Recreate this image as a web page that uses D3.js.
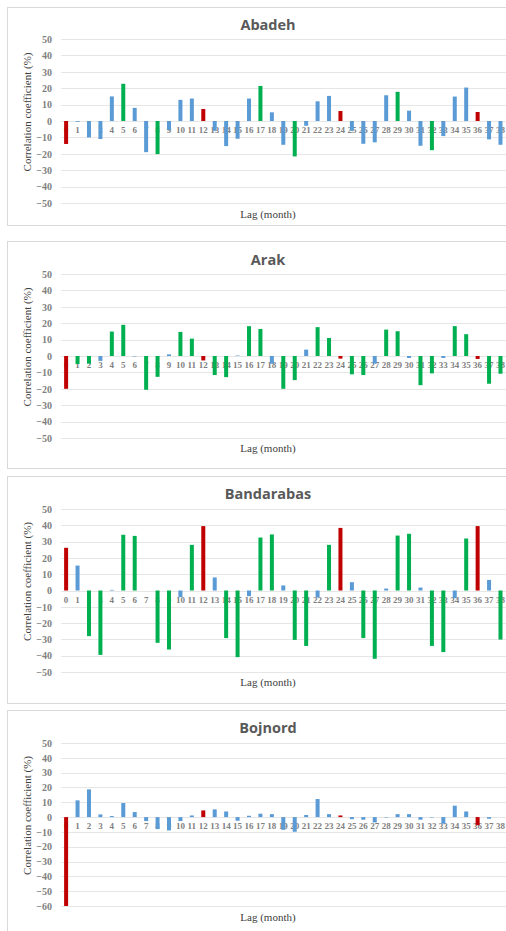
<!DOCTYPE html>
<html><head><meta charset="utf-8">
<script src="https://cdn.jsdelivr.net/npm/d3@7"></script>
<style>html,body{margin:0;padding:0;background:#fff;}svg{display:block;}</style>
</head><body>
<script>
// ---- data ----
const lagLabels = ["0","1","2","3","4","5","6","7","8","9","10","11","12","13","14","15","16","17","18","19","20","21","22","23","24","25","26","27","28","29","30","31","32","33","34","35","36","37","38"];
const stations = ["Abadeh","Arak","Bandarabas","Bojnord"];
const abadehValues = [-14,-0.5,-10,-11,15,22.7,8,-19,-20.2,-5.5,12.9,13.7,7.3,-6,-15.3,-10.8,13.7,21.4,5.3,-14.5,-21.6,-2.9,12,15.3,6.1,-6,-13.9,-13,15.7,17.8,6.3,-15.1,-17.8,-9.2,14.9,20.4,5.5,-11.2,-14.5];
const abadehClass  = "rbbbbgbbgbbbrbbbbgbbgbbbrbbbbgbbgbbbrbb".split("");
const arakValues = [-20,-4.9,-4.7,-3,14.9,19,-0.3,-20.6,-12.7,1,14.7,10.6,-2.7,-11.6,-12.9,0.3,18.2,16.5,-4.7,-20,-14.7,3.9,17.6,11,-1.6,-11.2,-11.6,-4.7,16.1,15.1,-1.2,-17.8,-10.6,-1.2,18.2,13.3,-1.8,-16.9,-10.8];
const arakClass  = "rggbggbggbggrggbggbggbggrggbggbggbggrgg".split("");
const bandarabasValues = [26.2,15.3,-28,-39.5,0.4,34.2,33.5,0,-32.1,-36.2,-4.1,28,39.5,8,-29.2,-40.9,-3.5,32.5,34.4,3.1,-30.3,-34,-4.3,28,38.4,5.1,-29.2,-41.9,1.2,33.7,34.8,1.8,-34,-37.8,-4.7,31.9,39.5,6.5,-30.1];
const bandarabasClass  = "rbggbggbggbgrbggbggbggbgrbggbggbggbgrbg".split("");
const bojnordValues = [-60,11.3,18.7,1.8,0.7,9.5,3.4,-2.7,-8.1,-9,-2.7,1.1,4.5,5.2,3.8,-2.5,0.9,2.3,2,-8.6,-9.9,1.4,12.2,2,1.1,-1.4,-1.8,-3.6,-0.3,2,2,-1.8,-0.3,-4.5,7.7,3.8,-5.4,-1.1,0];
const bojnordClass  = "rbbbbbbbbbbbrbbbbbbbbbbbrbbbbbbbbbbbrbb".split("");
const yTicksA = [50,40,30,20,10,0,-10,-20,-30,-40,-50];
const yTicksB = [50,40,30,20,10,0,-10,-20,-30,-40,-50,-60];
const yDomains = [[-50,50],[-50,50],[-50,50],[-60,50]];
const yAxisTitle = "Correlation coefficient (%)";
const xAxisTitle = "Lag (month)";

const colors = {r:"#C00000", g:"#00B050", b:"#5B9BD5"};

// ---- layout ----
const W = 506, H = 931;
const panels = [
  {top:7,   bottom:225, yMax:39,  yMin:203, titleY:25,  lagY:214, values:abadehValues, cls:abadehClass, ticks:yTicksA},
  {top:241, bottom:468, yMax:274, yMin:438, titleY:260, lagY:448, values:arakValues, cls:arakClass, ticks:yTicksA},
  {top:476, bottom:703, yMax:509, yMin:672, titleY:494, lagY:682, values:bandarabasValues, cls:bandarabasClass, ticks:yTicksA},
  {top:710, bottom:945, yMax:743, yMin:906, titleY:728, lagY:917, values:bojnordValues, cls:bojnordClass, ticks:yTicksB}
];

const svg = d3.select("body").append("svg").attr("width",W).attr("height",H);
const serif = "'Liberation Serif','Times New Roman',serif";
const sans = "'Open Sans','Liberation Sans',sans-serif";

const x = d3.scaleBand().domain(lagLabels).range([60.4, 506.2]).paddingInner(0.65).paddingOuter(0.325);

panels.forEach((p, i) => {
  const g = svg.append("g");
  g.append("rect").attr("x",7.5).attr("y",p.top+0.5).attr("width",560).attr("height",p.bottom-p.top)
    .attr("fill","#fff").attr("stroke","#d9d9d9").attr("stroke-width",1);

  const y = d3.scaleLinear().domain(yDomains[i]).range([p.yMin, p.yMax]);

  // gridlines
  g.append("g").selectAll("line").data(p.ticks).join("line")
    .attr("x1",61).attr("x2",W).attr("y1",d=>Math.round(y(d))+0.5).attr("y2",d=>Math.round(y(d))+0.5)
    .attr("stroke","#e6e6e6").attr("stroke-width",1);

  // y axis labels
  const yAxis = d3.axisLeft(y).tickValues(p.ticks).tickSize(0).tickPadding(0);
  const ya = g.append("g").attr("transform","translate(52,0)").call(yAxis);
  ya.select(".domain").remove();
  ya.selectAll("text").attr("font-family",serif).attr("font-weight","bold").attr("font-size","10px").attr("fill","#7f7f7f");

  // x tick labels below zero line
  const xAxis = d3.axisBottom(x).tickSize(0).tickPadding(6);
  const xa = g.append("g").attr("transform",`translate(0,${y(0)})`).call(xAxis);
  xa.select(".domain").remove();
  xa.selectAll("text").attr("font-family",serif).attr("font-weight","bold").attr("font-size","9px").attr("fill","#7f7f7f");

  // bars
  g.append("g").selectAll("rect").data(p.values).join("rect")
    .attr("x",(d,j)=>x(lagLabels[j]))
    .attr("width",x.bandwidth())
    .attr("y",d=>y(Math.max(0,d)))
    .attr("height",d=>Math.abs(y(d)-y(0)))
    .attr("fill",(d,j)=>colors[p.cls[j]]);

  // title
  g.append("text").attr("x",268).attr("y",p.titleY).attr("dy","0.35em").attr("text-anchor","middle")
    .attr("font-family",sans).attr("font-weight","bold").attr("font-size","14.5px").attr("fill","#595959")
    .text(stations[i]);

  // axis titles
  const cy = (p.yMax + p.yMin)/2 - 9;
  g.append("text").attr("transform",`translate(27,${cy}) rotate(-90)`).attr("dy","0.35em").attr("text-anchor","middle")
    .attr("font-family",serif).attr("font-size","11px").attr("fill","#404040").text(yAxisTitle);
  g.append("text").attr("x",268).attr("y",p.lagY).attr("dy","0.35em").attr("text-anchor","middle")
    .attr("font-family",serif).attr("font-size","11px").attr("fill","#404040").text(xAxisTitle);
});
</script>
</body></html>
